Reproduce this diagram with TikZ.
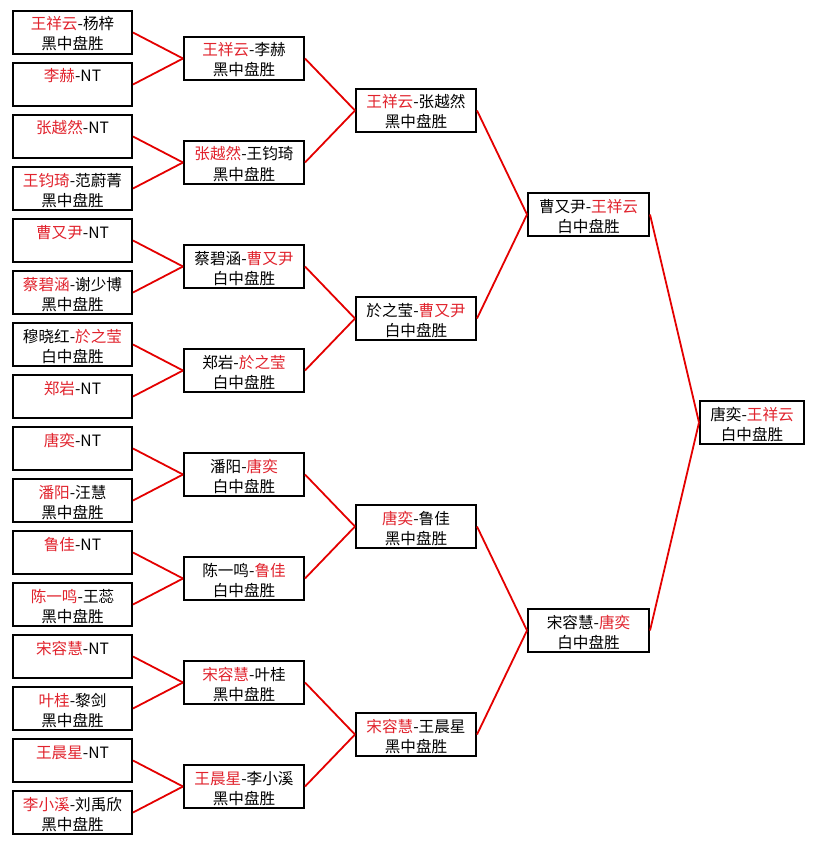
\documentclass[tikz,border=0pt]{standalone}
\usepackage{fontspec}
\newfontfamily\cjk{Noto Sans CJK SC}
\definecolor{wred}{RGB}{225,35,45}
\definecolor{lred}{RGB}{228,0,0}
\newcommand\R[1]{\textcolor{wred}{#1}}
\tikzset{
  box/.style={draw=black, line width=2pt, fill=white, rectangle, minimum height=43pt, inner sep=0pt},
  txt/.style={anchor=base, inner sep=0pt, font=\cjk\fontsize{15.6}{18}\selectfont, text=black},
  conn/.style={draw=lred, line width=1.8pt},
}
% name, x, y, path width, line1, line2
\newcommand\bx[6]{%
  \node[box, minimum width=#4pt] (#1) at (#2,#3) {};
  \node[txt] (#1-a) at ([yshift=-20pt]#1.north) {#5};
  \node[txt] (#1-b) at ([yshift=-40pt]#1.north) {#6};
}
\begin{document}
\begin{tikzpicture}[x=1pt,y=-1pt]
\fill[white] (0,0) rectangle (816,845);
\useasboundingbox (0,0) rectangle (816,845);
% column 1
\bx{a1}{72.5}{32.5}{119}{\R{王祥云}-杨梓}{黑中盘胜}
\bx{a2}{72.5}{84.5}{119}{\R{李赫}-NT}{}
\bx{a3}{72.5}{136.5}{119}{\R{张越然}-NT}{}
\bx{a4}{72.5}{188.5}{119}{\R{王钧琦}-范蔚菁}{黑中盘胜}
\bx{a5}{72.5}{240.5}{119}{\R{曹又尹}-NT}{}
\bx{a6}{72.5}{292.5}{119}{\R{蔡碧涵}-谢少博}{黑中盘胜}
\bx{a7}{72.5}{344.5}{119}{穆晓红-\R{於之莹}}{白中盘胜}
\bx{a8}{72.5}{396.5}{119}{\R{郑岩}-NT}{}
\bx{a9}{72.5}{448.5}{119}{\R{唐奕}-NT}{}
\bx{a10}{72.5}{500.5}{119}{\R{潘阳}-汪慧}{黑中盘胜}
\bx{a11}{72.5}{552.5}{119}{\R{鲁佳}-NT}{}
\bx{a12}{72.5}{604.5}{119}{\R{陈一鸣}-王蕊}{黑中盘胜}
\bx{a13}{72.5}{656.5}{119}{\R{宋容慧}-NT}{}
\bx{a14}{72.5}{708.5}{119}{\R{叶桂}-黎剑}{黑中盘胜}
\bx{a15}{72.5}{760.5}{119}{\R{王晨星}-NT}{}
\bx{a16}{72.5}{812.5}{119}{\R{李小溪}-刘禹欣}{黑中盘胜}
% column 2
\bx{b1}{244}{58.5}{120}{\R{王祥云}-李赫}{黑中盘胜}
\bx{b2}{244}{162.5}{120}{\R{张越然}-王钧琦}{黑中盘胜}
\bx{b3}{244}{266.5}{120}{蔡碧涵-\R{曹又尹}}{白中盘胜}
\bx{b4}{244}{370.5}{120}{郑岩-\R{於之莹}}{白中盘胜}
\bx{b5}{244}{474.5}{120}{潘阳-\R{唐奕}}{白中盘胜}
\bx{b6}{244}{578.5}{120}{陈一鸣-\R{鲁佳}}{白中盘胜}
\bx{b7}{244}{682.5}{120}{\R{宋容慧}-叶桂}{黑中盘胜}
\bx{b8}{244}{786.5}{120}{\R{王晨星}-李小溪}{黑中盘胜}
% column 3
\bx{c1}{416}{110.5}{120}{\R{王祥云}-张越然}{黑中盘胜}
\bx{c2}{416}{318.5}{120}{於之莹-\R{曹又尹}}{白中盘胜}
\bx{c3}{416}{526.5}{120}{\R{唐奕}-鲁佳}{黑中盘胜}
\bx{c4}{416}{734.5}{120}{\R{宋容慧}-王晨星}{黑中盘胜}
% column 4
\bx{d1}{588.5}{214.5}{121}{曹又尹-\R{王祥云}}{白中盘胜}
\bx{d2}{588.5}{630.5}{121}{宋容慧-\R{唐奕}}{白中盘胜}
% final
\bx{e1}{752}{422.5}{104}{唐奕-\R{王祥云}}{白中盘胜}
% connectors
\foreach \k in {1,...,8}{
  \pgfmathtruncatemacro\i{2*\k-1}
  \pgfmathtruncatemacro\j{2*\k}
  \draw[conn] (a\i.east) -- (b\k.west);
  \draw[conn] (a\j.east) -- (b\k.west);
}
\foreach \k in {1,...,4}{
  \pgfmathtruncatemacro\i{2*\k-1}
  \pgfmathtruncatemacro\j{2*\k}
  \draw[conn] (b\i.east) -- (c\k.west);
  \draw[conn] (b\j.east) -- (c\k.west);
}
\foreach \k in {1,2}{
  \pgfmathtruncatemacro\i{2*\k-1}
  \pgfmathtruncatemacro\j{2*\k}
  \draw[conn] (c\i.east) -- (d\k.west);
  \draw[conn] (c\j.east) -- (d\k.west);
}
\draw[conn] (d1.east) -- (e1.west);
\draw[conn] (d2.east) -- (e1.west);
\end{tikzpicture}
\end{document}
